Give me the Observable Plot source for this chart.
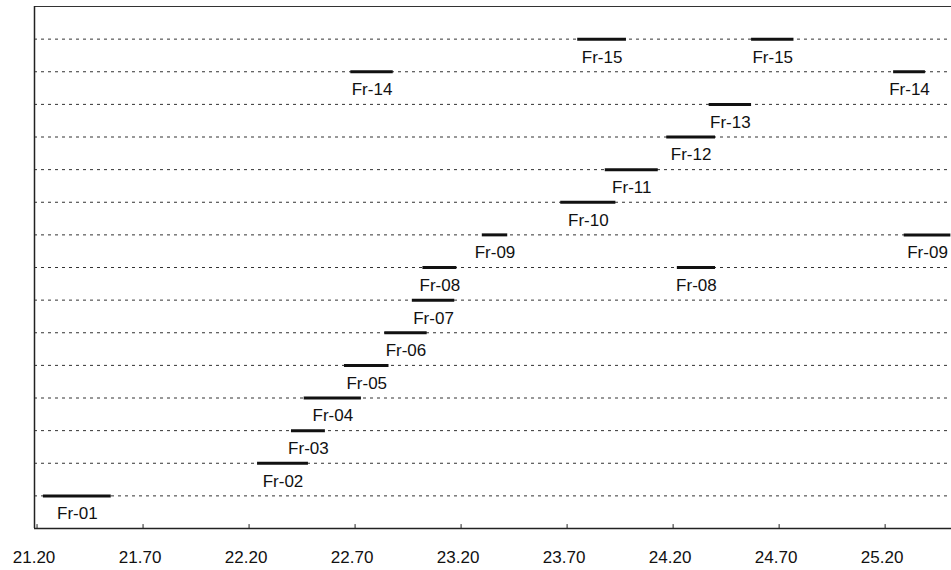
<!DOCTYPE html>
<html>
<head>
<meta charset="utf-8">
<script src="https://cdn.jsdelivr.net/npm/d3@7"></script>
<script src="https://cdn.jsdelivr.net/npm/@observablehq/plot@0.6"></script>
<style>
  html, body { margin: 0; padding: 0; background: #ffffff; }
  #chart { width: 951px; height: 570px; }
</style>
</head>
<body>
<div id="chart"></div>
<script>
// Segment labels, their row (1 = bottom) and start/end positions on the x axis
const segLabels = ["Fr-01","Fr-02","Fr-03","Fr-04","Fr-05","Fr-06","Fr-07","Fr-08","Fr-09","Fr-10","Fr-11","Fr-12","Fr-13","Fr-14","Fr-15","Fr-08","Fr-09","Fr-14","Fr-15"];
const segRows   = [1,2,3,4,5,6,7,8,9,10,11,12,13,14,15,8,9,14,15];
const segStart  = [21.23,22.24,22.40,22.46,22.65,22.84,22.97,23.02,23.30,23.67,23.88,24.17,24.37,22.68,23.75,24.22,25.29,25.24,24.57];
const segEnd    = [21.55,22.48,22.56,22.73,22.86,23.04,23.17,23.18,23.42,23.93,24.13,24.40,24.57,22.88,23.98,24.40,25.51,25.39,24.77];

// Rows with dotted guide lines
const rowList = [1,2,3,4,5,6,7,8,9,10,11,12,13,14,15];

// X tick values and labels
const xTicks = [21.20,21.70,22.20,22.70,23.20,23.70,24.20,24.70,25.20];
const xTickLabels = ["21.20","21.70","22.20","22.70","23.20","23.70","24.20","24.70","25.20"];

const xMin = 21.188, xMax = 25.513;
const yMin = 0, yMax = 16;

const segs = segLabels.map((label, i) => ({
  label, row: segRows[i], x1: segStart[i], x2: segEnd[i], mid: (segStart[i] + segEnd[i]) / 2
}));
const ticks = xTicks.map((v, i) => ({v, label: xTickLabels[i]}));

const chart = Plot.plot({
  width: 951,
  height: 570,
  marginLeft: 34,
  marginRight: 0,
  marginTop: 6,
  marginBottom: 42,
  x: {domain: [xMin, xMax], axis: null},
  y: {domain: [yMin, yMax], axis: null},
  style: {fontFamily: "'Liberation Sans', Arial, Helvetica, sans-serif", fontSize: "17px", background: "#ffffff", color: "#111"},
  marks: [
    // dotted row guides
    Plot.ruleY(rowList, {y: d => d, x1: xMin, x2: xMax, stroke: "#333", strokeWidth: 1, strokeDasharray: "3,4"}),
    // frame: top, bottom, left
    Plot.ruleY([yMax], {x1: xMin, x2: xMax, stroke: "#333", strokeWidth: 1.2}),
    Plot.ruleY([yMin], {x1: xMin, x2: xMax, stroke: "#222", strokeWidth: 1.5}),
    Plot.ruleX([xMin], {y1: yMin, y2: yMax, stroke: "#222", strokeWidth: 1.5}),
    // inner tick marks on bottom axis
    Plot.ruleX(ticks, {x: "v", y1: 0, y2: 0.12, stroke: "#222", strokeWidth: 1}),
    // tick labels
    Plot.text(ticks, {x: "v", y: 0, text: "label", dy: 29, dx: -3, fontSize: 17, fill: "#111"}),
    // segments
    Plot.ruleY(segs, {y: "row", x1: "x1", x2: "x2", stroke: "#111", strokeWidth: 3}),
    // segment labels
    Plot.text(segs, {x: "mid", y: "row", text: "label", dy: 18, fontSize: 17, fill: "#111"})
  ]
});

document.getElementById("chart").appendChild(chart);
</script>
</body>
</html>
